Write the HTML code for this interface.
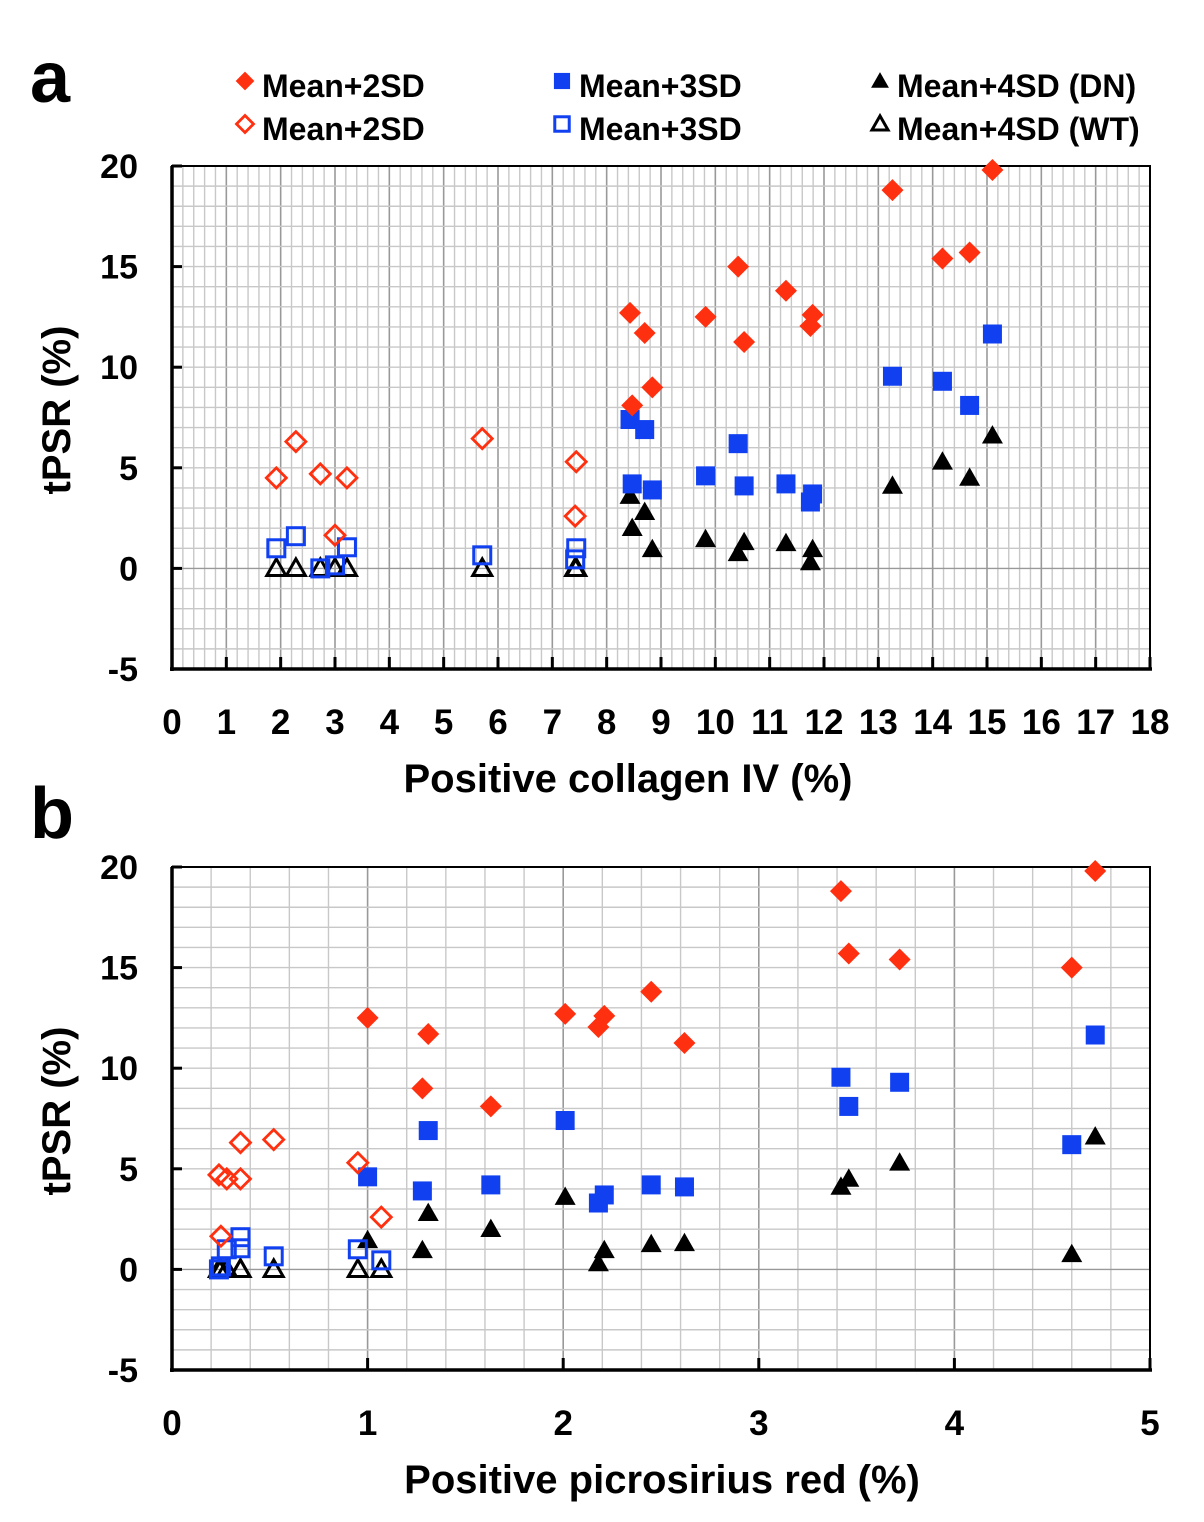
<!DOCTYPE html>
<html><head><meta charset="utf-8"><style>
html,body{margin:0;padding:0;background:#fff;}
svg text{font-family:"Liberation Sans",Arial,sans-serif;font-weight:bold;fill:#000;}
</style></head><body>
<svg id="chart" width="1204" height="1517" xmlns="http://www.w3.org/2000/svg">
<text x="30" y="102" font-size="72">a</text>
<text x="30" y="838" font-size="72">b</text>
<g id="legend"></g>
<g id="pa"></g>
<g id="pb"></g>
</svg>
<script>
// DN samples
const dnCollagen = [15.1,13.26,14.18,14.68,10.42,11.3,8.43,11.79,11.75,9.82,8.7,10.53,8.84,8.47];
const dnPicro    = [4.72,3.42,3.72,3.46,4.6,2.45,2.01,2.21,2.18,1.0,1.31,2.62,1.28,1.63];
const dn2SD = [19.8,18.8,15.4,15.7,15.0,13.8,12.7,12.6,12.05,12.5,11.7,11.25,9.0,8.1];
const dn3SD = [11.65,9.55,9.3,8.1,6.2,4.2,7.4,3.7,3.3,4.6,6.9,4.1,3.9,4.2];
const dn4SD = [6.6,4.1,5.3,4.5,0.75,1.25,3.6,0.95,0.3,1.45,2.8,1.3,0.95,2.0];
// WT samples
const wtCollagen = [1.92,2.28,2.73,3.0,3.22,5.71,7.44,7.42];
const wtPicro    = [0.28,0.35,0.24,0.25,0.35,0.52,0.95,1.07];
const wt2SD = [4.5,6.3,4.7,1.65,4.5,6.45,5.3,2.6];
const wt3SD = [1.0,1.6,0.0,0.15,1.05,0.65,1.0,0.45];
const wt4SD = [0,0,0,0,0,0,0,0];
const yTicks = [20,15,10,5,0,-5];
const xTicksA = [0,1,2,3,4,5,6,7,8,9,10,11,12,13,14,15,16,17,18];
const xTicksB = [0,1,2,3,4,5];

const NS="http://www.w3.org/2000/svg";
function mk(p,t,a){const e=document.createElementNS(NS,t);for(const k in a)e.setAttribute(k,a[k]);p.appendChild(e);return e;}
const RED="#ff3010",BLUE="#1040f0";
function marker(g,type,filled,cx,cy,s){
  s=s||1;let e;
  if(type==="d"){const r=(filled?11:10)*s;e=mk(g,"polygon",{points:`${cx},${cy-r} ${cx+r},${cy} ${cx},${cy+r} ${cx-r},${cy}`,fill:RED,"fill-opacity":filled?1:0,stroke:RED,"stroke-width":filled?0:2.8});}
  else if(type==="s"){const r=filled?9.5*s:8.5*s;e=mk(g,"rect",{x:cx-r,y:cy-r,width:2*r,height:2*r,fill:BLUE,"fill-opacity":filled?1:0,stroke:BLUE,"stroke-width":filled?0:3});}
  else {const r=(filled?10.5:9.5)*s;e=mk(g,"polygon",{points:`${cx},${cy-r} ${cx+r},${cy+r*0.75} ${cx-r},${cy+r*0.75}`,fill:"#000","fill-opacity":filled?1:0,stroke:"#000","stroke-width":filled?0:3,"stroke-linejoin":"miter"});}
  return e;
}
function panel(gid,top,xmax,xminor,xticks,xs,title,which){
  const g=document.getElementById(gid);
  const L=172,R=1150,T=top,B=top+503;
  const X=v=>L+(R-L)*v/xmax, Y=v=>T+(B-T)*(20-v)/25;
  for(let v=0;v<=xmax+1e-9;v+=xminor){const major=Math.abs(v-Math.round(v))<1e-6;
    const l=mk(g,"line",{x1:X(v),x2:X(v),y1:T,y2:B,stroke:major?"#999":"#c8c8c8","stroke-width":major?1.6:1.4});
    
    }
  for(let v=-5;v<=20;v++){
    const l=mk(g,"line",{x1:L,x2:R,y1:Y(v),y2:Y(v),stroke:v===0?"#999":"#c8c8c8","stroke-width":1.4});
    
    }
  const fr=mk(g,"rect",{x:L,y:T,width:R-L,height:B-T,fill:"none",stroke:"#000","stroke-width":2});
  
  
  mk(g,"line",{x1:L,x2:L,y1:T,y2:B+2,stroke:"#000","stroke-width":3.5});
  mk(g,"line",{x1:L-2,x2:R+2,y1:B,y2:B,stroke:"#000","stroke-width":3.5});
  yTicks.forEach(v=>{mk(g,"line",{x1:L,x2:L+10,y1:Y(v),y2:Y(v),stroke:"#000","stroke-width":3});
    const t=mk(g,"text",{x:L-34,y:Y(v)+12,"font-size":34,"text-anchor":"end"});t.textContent=v;
    
    });
  xticks.forEach(v=>{mk(g,"line",{x1:X(v),x2:X(v),y1:B,y2:B-12,stroke:"#000","stroke-width":3});
    const t=mk(g,"text",{x:X(v),y:B+65,"font-size":35,"text-anchor":"middle"});t.textContent=v;
    
    });
  const yt=mk(g,"text",{x:0,y:0,"font-size":40,"text-anchor":"middle",transform:`translate(70,${T+244}) rotate(-90)`});yt.textContent="tPSR (%)";
  
  
  const xt=mk(g,"text",{x:(which==="a"?628:662),y:B+123,"font-size":40,"text-anchor":"middle"});xt.textContent=title;
  
  
  const [dx,wx]=xs;
  const sets=[[wx,wt4SD,"t",false],[dx,dn4SD,"t",true],[wx,wt3SD,"s",false],[dx,dn3SD,"s",true],[wx,wt2SD,"d",false],[dx,dn2SD,"d",true]];
  sets.forEach(([xa,ya,ty,f])=>xa.forEach((xv,i)=>{const m=marker(g,ty,f,X(xv),Y(ya[i]));
    
    }));
}
panel("pa",166,18,0.2,xTicksA,[dnCollagen,wtCollagen],"Positive collagen IV (%)","a");
panel("pb",867,5,0.2,xTicksB,[dnPicro,wtPicro],"Positive picrosirius red (%)","b");
// legend
const lg=document.getElementById("legend");
const legItems=[[245,86,"d",true,"Mean+2SD"],[562,86,"s",true,"Mean+3SD"],[880,86,"t",true,"Mean+4SD (DN)"],
 [245,129,"d",false,"Mean+2SD"],[562,129,"s",false,"Mean+3SD"],[880,129,"t",false,"Mean+4SD (WT)"]];
legItems.forEach(([x,y,ty,f,lab])=>{
  const m=marker(lg,ty,f,x,y-5,0.85);
  
  
  const t=mk(lg,"text",{x:x+17,y:y+11,"font-size":32});t.textContent=lab;
  
  
});
</script>
</body></html>
